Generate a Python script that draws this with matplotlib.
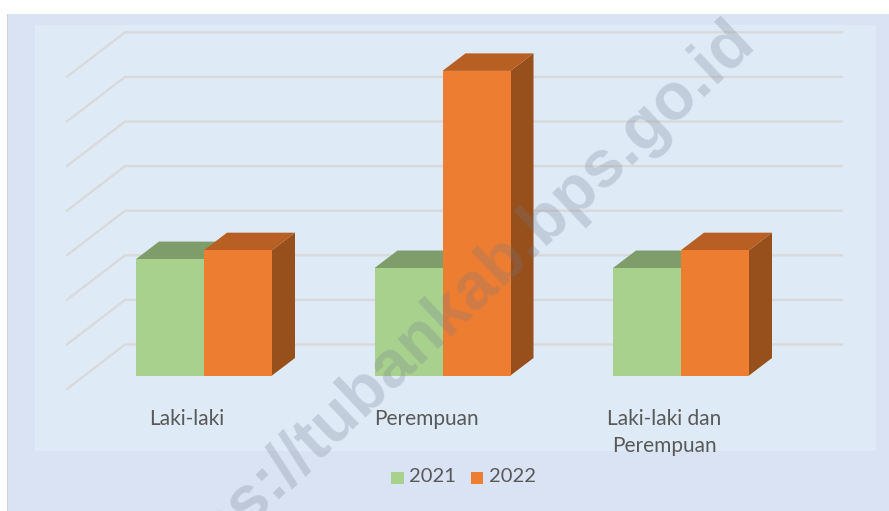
import matplotlib
matplotlib.use('Agg')
import matplotlib.pyplot as plt
from matplotlib.patches import Rectangle, Polygon

categories = ['Laki-laki', 'Perempuan', 'Laki-laki dan\nPerempuan']
series_2021 = [2.61, 2.41, 2.41]
series_2022 = [2.81, 6.83, 2.81]
grid_levels = [0, 1, 2, 3, 4, 5, 6, 7]

W, H = 889, 511
GROUP_PX = 238.5
UNIT_PX = 44.6
BAR_W = 68 / GROUP_PX
DEPTH_X = 23 / GROUP_PX
DEPTH_Y = 17.5 / UNIT_PX

plt.rcParams['font.family'] = ['Lato', 'DejaVu Sans']

fig = plt.figure(figsize=(W / 100, H / 100), dpi=100, facecolor='white')
ax = fig.add_axes([0, 0, 1, 1])
ax.set_xlim(-204 / GROUP_PX, (W - 204) / GROUP_PX)
ax.set_ylim(-(H - 375.5) / UNIT_PX, 375.5 / UNIT_PX)
ax.axis('off')

# chart background, in pixels from top left
fig.patches.append(Rectangle((8 / W, 0), (W - 8) / W, (H - 14) / H,
                             transform=fig.transFigure, fc='#dae3f3', ec='none', zorder=-3))
fig.patches.append(Rectangle((7 / W, 0), 1.2 / W, (H - 14) / H,
                             transform=fig.transFigure, fc='#d0d0d0', ec='none', zorder=-2))
fig.patches.append(Rectangle((35 / W, (H - 451) / H), 841 / W, 426 / H,
                             transform=fig.transFigure, fc='#deeaf6', ec='none', zorder=-1))

# gridlines with the slanted floor/wall part
x_back_l = -79 / GROUP_PX
x_front_l = -137 / GROUP_PX
x_back_r = 638 / GROUP_PX
for g in grid_levels:
    y = g + 31 / UNIT_PX
    ax.plot([x_front_l, x_back_l, x_back_r], [y - 44.5 / UNIT_PX, y, y],
            color='#d9d9d9', lw=1.6, solid_joinstyle='miter', zorder=1)


def bar3d(x0, val, front, top, side):
    x1 = x0 + BAR_W
    ax.add_patch(Polygon([(x1, 0), (x1 + DEPTH_X, DEPTH_Y), (x1 + DEPTH_X, val + DEPTH_Y), (x1, val)],
                         fc=side, ec='none', zorder=3))
    ax.add_patch(Polygon([(x0, val), (x1, val), (x1 + DEPTH_X, val + DEPTH_Y), (x0 + DEPTH_X, val + DEPTH_Y)],
                         fc=top, ec='none', zorder=3))
    ax.add_patch(Rectangle((x0, 0), BAR_W, val, fc=front, ec='none', zorder=4))


for i in range(len(categories)):
    bar3d(i - BAR_W, series_2021[i], '#a9d18e', '#7f9d6b', '#65804f')
    bar3d(i, series_2022[i], '#ed7d31', '#b85f24', '#97501b')

# category labels
label_x = [-17 / GROUP_PX, 222 / GROUP_PX, 460 / GROUP_PX]
for i, name in enumerate(categories):
    ax.text(label_x[i], -(409 - 375.5) / UNIT_PX, name, ha='center', va='top',
            fontsize=15, color='#595959', linespacing=1.43, zorder=5)

# legend
ax.add_patch(Rectangle((187 / GROUP_PX, -(484 - 375.5) / UNIT_PX), 12.5 / GROUP_PX, 12.5 / UNIT_PX,
                       fc='#a9d18e', ec='none', zorder=5))
ax.text(205 / GROUP_PX, -(476.5 - 375.5) / UNIT_PX, '2021', va='center', fontsize=14.5, color='#595959', zorder=5)
ax.add_patch(Rectangle((267 / GROUP_PX, -(484 - 375.5) / UNIT_PX), 12 / GROUP_PX, 12.5 / UNIT_PX,
                       fc='#ed7d31', ec='none', zorder=5))
ax.text(285 / GROUP_PX, -(476.5 - 375.5) / UNIT_PX, '2022', va='center', fontsize=14.5, color='#595959', zorder=5)

# watermark
fig.text(445 / W, (H - 315) / H, 'https://tubankab.bps.go.id', rotation=43.4, rotation_mode='anchor',
         ha='center', va='center', fontsize=47.5, fontweight='bold', family='Liberation Sans',
         color='#70788a', alpha=0.25, zorder=10)

fig.savefig('out.png', dpi=100)
